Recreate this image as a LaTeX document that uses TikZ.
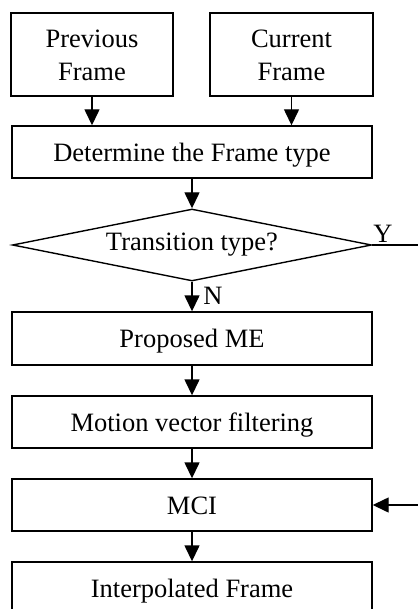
\documentclass[tikz,border=0pt]{standalone}
\usepackage{fontspec}
\setmainfont{Liberation Serif}
\usetikzlibrary{shapes.geometric,arrows.meta}
\begin{document}
\begin{tikzpicture}[x=1pt,y=-1pt,
  font=\fontsize{26.5}{33}\selectfont,
  box/.style={draw,line width=1.4pt,inner sep=0pt,align=center,text height=18pt,text depth=0pt},
  twoline/.style={text height=53pt,text depth=0pt},
  arr/.style={line width=1.4pt,-{Triangle[width=15pt,length=16pt]}},
  lbl/.style={inner sep=0pt}]
\useasboundingbox (0,0) rectangle (417,609);
\node[box,twoline,minimum width=162pt,minimum height=83pt] (prev) at (92,54.5) {Previous\\Frame};
\node[box,twoline,minimum width=163pt,minimum height=83pt] (cur) at (291.5,54.5) {Current\\Frame};
\node[box,text height=20pt,minimum width=360pt,minimum height=52pt] (det) at (192,152) {Determine the Frame type};
\node[draw,line width=1.4pt,diamond,inner sep=0pt,aspect=4.99,text height=12pt,text depth=0pt,minimum width=359pt,minimum height=72pt] (dec) at (192,245) {Transition type?};
\node[box,minimum width=360pt,minimum height=53pt] (pme) at (192,338.5) {Proposed ME};
\node[box,minimum width=360pt,minimum height=52pt] (mvf) at (192,422) {Motion vector filtering};
\node[box,minimum width=360pt,minimum height=52pt] (mci) at (192,505) {MCI};
\node[box,minimum width=360pt,minimum height=52pt] (itp) at (192,588) {Interpolated Frame};
\coordinate (c1) at (440,245);
\coordinate (c2) at (440,505);
\draw[arr] (prev.south) -- (prev.south |- det.north);
\draw[arr] (cur.south) -- (cur.south |- det.north);
\draw[arr] (det.south) -- (dec.north);
\draw[arr] (dec.south) -- (pme.north);
\draw[arr] (pme.south) -- (mvf.north);
\draw[arr] (mvf.south) -- (mci.north);
\draw[arr] (mci.south) -- (itp.north);
\draw[arr] (dec.east) -- (c1) -- (c2) -- (mci.east);
\node[lbl,anchor=base] (y) at (383,242) {Y};
\node[lbl,anchor=base] (n) at (213,304) {N};
\end{tikzpicture}
\end{document}
